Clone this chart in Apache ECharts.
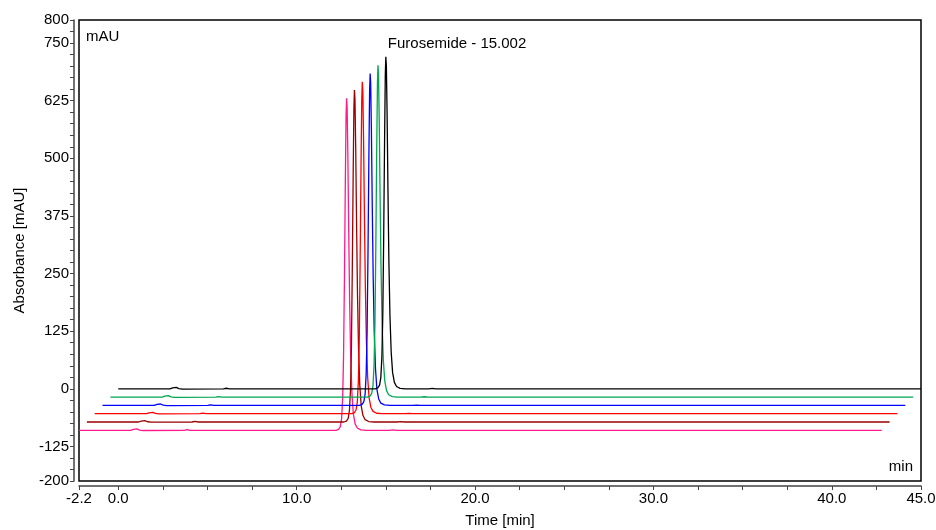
<!DOCTYPE html>
<html>
<head>
<meta charset="utf-8">
<script src="https://cdn.jsdelivr.net/npm/echarts@6/dist/echarts.min.js"></script>
<style>
html,body{margin:0;padding:0;background:#fff;}
#chart{width:936px;height:530px;}
</style>
</head>
<body>
<div id="chart"></div>
<script>
// Chromatogram (time in min, absorbance in mAU)
const traceTime = [0, 2.9, 3.05, 3.15, 3.25, 3.4, 3.6, 5.9, 6.05, 6.25,
  14.4, 14.55, 14.65, 14.72, 14.78, 14.83, 14.88, 14.93, 14.97, 15.0, 15.03, 15.07,
  15.12, 15.17, 15.23, 15.3, 15.38, 15.48, 15.6, 15.8, 16.1, 17.4, 17.6, 17.8, 45];
const traceAbs = [0, 0, 2, 5, 3, 0.5, -0.5, 0, 1.2, 0,
  0, 2, 8, 25, 70, 160, 330, 540, 680, 720, 700, 600,
  430, 280, 160, 80, 35, 14, 5, 1, 0, 0, 0.8, 0, 0];
// Stacked runs: colours, time shift and absorbance shift for each
const runNames = ['Run 1', 'Run 2', 'Run 3', 'Run 4', 'Run 5', 'Run 6'];
const runColors = ['#000000', '#00a651', '#0000ff', '#ff0000', '#990000', '#ff1a8c'];
const runTimeShift = [0, -0.44, -0.88, -1.32, -1.76, -2.2];
const runAbsShift = [0, -18, -36, -54, -72, -90];
// Axis ticks
const xTickValues = [-2.2, 0, 2.5, 5, 7.5, 10, 12.5, 15, 17.5, 20, 22.5, 25, 27.5, 30, 32.5, 35, 37.5, 40, 42.5, 45];
const xTickLabels = [-2.2, 0, 10, 20, 30, 40, 45];
const yTickLabels = [-200, -125, 0, 125, 250, 375, 500, 625, 750, 800];
const peakName = 'Furosemide';
const peakTime = 15.002;
const peakHeight = 720;

const yTickValues = [];
for (let v = -200; v <= 800; v += 25) yTickValues.push(v);

const FONT = '"Liberation Sans", Arial, sans-serif';

const series = runNames.map((name, k) => {
  const data = traceTime.map((t, i) => [t + runTimeShift[k], traceAbs[i] + runAbsShift[k]]);
  const s = {
    name: name,
    type: 'line',
    data: data,
    showSymbol: false,
    symbol: 'none',
    lineStyle: { color: runColors[k], width: 1.3 },
    itemStyle: { color: runColors[k] },
    z: 10 - k,
    silent: true
  };
  if (k === 0) {
    s.markPoint = {
      symbol: 'circle', symbolSize: 0, silent: true,
      data: [{
        coord: [peakTime, peakHeight],
        label: {
          show: true, position: 'inside', offset: [2, -13], align: 'left', verticalAlign: 'middle',
          formatter: peakName + ' - ' + peakTime.toFixed(3),
          color: '#000', fontSize: 15, fontFamily: FONT
        }
      }]
    };
  }
  return s;
});

const chart = echarts.init(document.getElementById('chart'));
chart.setOption({
  animation: false,
  backgroundColor: '#fff',
  grid: { left: 79, right: 15, top: 20, bottom: 49, containLabel: false, outerBoundsMode: 'none',
    show: true, borderColor: '#000', borderWidth: 1.5, backgroundColor: 'transparent' },
  xAxis: {
    type: 'value', min: -2.2, max: 45,
    offset: 5,
    name: 'Time [min]', nameLocation: 'middle', nameGap: 27,
    nameTextStyle: { color: '#000', fontSize: 15, fontFamily: FONT },
    axisLine: { show: true, onZero: false, lineStyle: { color: '#444', width: 1.5 } },
    axisTick: { show: true, customValues: xTickValues, length: 4, lineStyle: { color: '#444', width: 1 } },
    axisLabel: { customValues: xTickLabels, formatter: v => Number(v).toFixed(1), color: '#000', fontSize: 15, fontFamily: FONT, margin: 5 },
    splitLine: { show: false }
  },
  yAxis: {
    type: 'value', min: -200, max: 800,
    offset: 5,
    name: 'Absorbance [mAU]', nameLocation: 'middle', nameGap: 47, nameRotate: 90,
    nameTextStyle: { color: '#000', fontSize: 15, fontFamily: FONT },
    axisLine: { show: true, onZero: false, lineStyle: { color: '#444', width: 1.5 } },
    axisTick: { show: true, customValues: yTickValues, length: 4, lineStyle: { color: '#444', width: 1 } },
    axisLabel: { customValues: yTickLabels, formatter: v => String(v), color: '#000', fontSize: 15, fontFamily: FONT, margin: 5 },
    splitLine: { show: false }
  },
  graphic: [
    { type: 'text', left: 86, top: 29, style: { text: 'mAU', fill: '#000', font: '15px ' + FONT } },
    { type: 'text', right: 23, top: 459, style: { text: 'min', fill: '#000', font: '15px ' + FONT } }
  ],
  series: series
});
</script>
</body>
</html>
